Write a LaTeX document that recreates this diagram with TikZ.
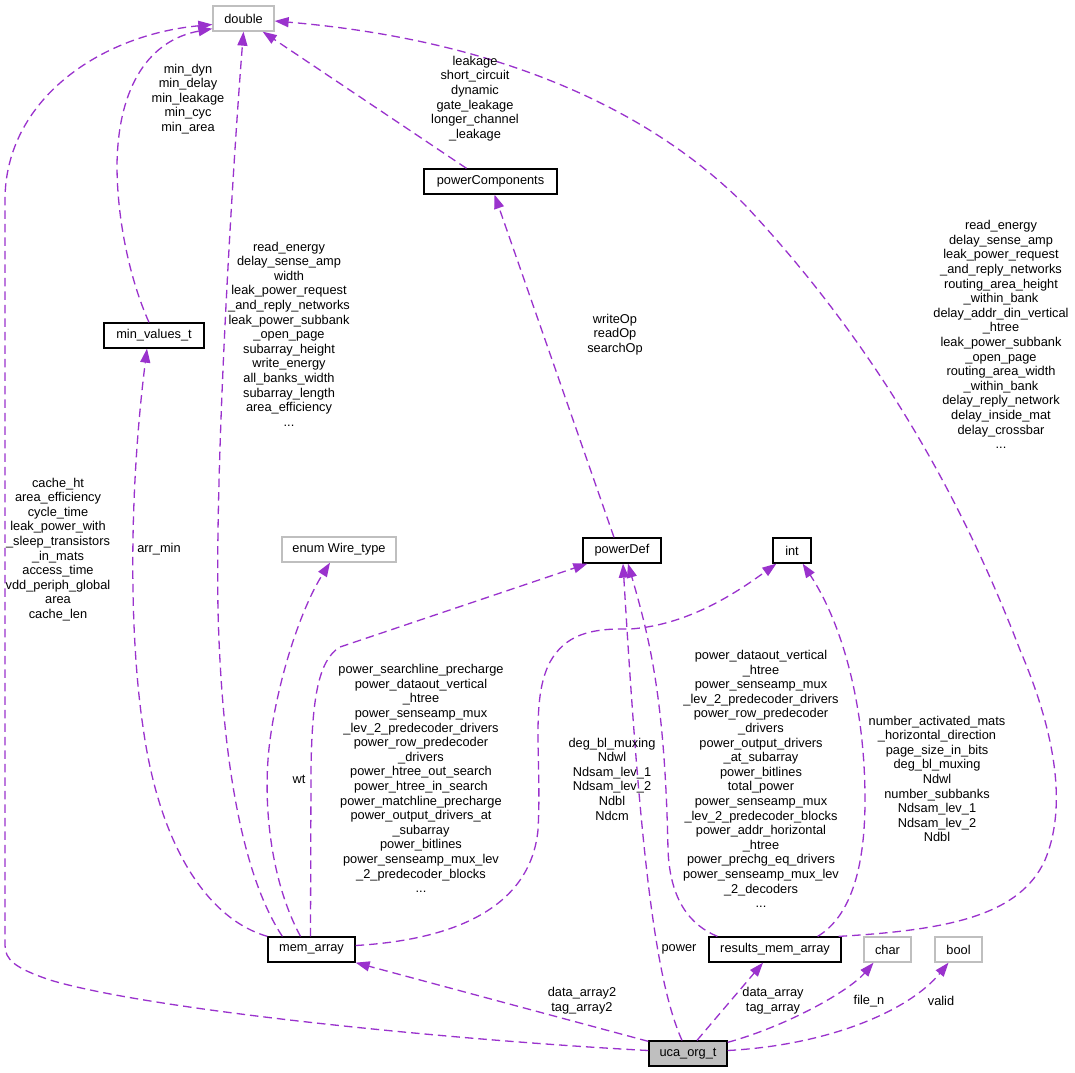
\documentclass[tikz,border=0pt]{standalone}
\usepackage{fontspec}
\setmainfont{Liberation Sans}
\usetikzlibrary{arrows.meta,calc}
\definecolor{edgecol}{HTML}{9A32CD}
\definecolor{greyline}{HTML}{BFBFBF}
\newcommand{\lblfont}{\fontsize{12.8}{14.6}\selectfont}
\begin{document}
\begin{tikzpicture}[x=1pt,y=-1pt,
  cls/.style={draw=black, line width=1.3pt, minimum height=25pt, inner sep=0pt, font=\lblfont},
  undoc/.style={cls, draw=greyline},
  lab/.style={align=center, font=\lblfont, inner sep=0pt},
  usage/.style={draw=edgecol, line width=1.3pt, dash pattern=on 8.5pt off 5pt,
    -{Triangle[length=14pt,width=10pt]}}]
\fill[white] (0,0) rectangle (1075,1072);
\useasboundingbox (0,0) rectangle (1075,1072);

% classes
\node[undoc, minimum width=61pt] (double) at (243.5,18.5) {double};
\node[cls, minimum width=133pt] (pc) at (490.5,181.5) {powerComponents};
\node[cls, minimum width=100pt] (minv) at (154,335.5) {min\_values\_t};
\node[undoc, minimum width=114pt] (wire) at (339,549.5) {enum Wire\_type};
\node[cls, minimum width=78pt] (pdef) at (622,550.5) {powerDef};
\node[cls, minimum width=38pt] (int) at (792,550.5) {int};
\node[cls, minimum width=87pt] (mem) at (311.5,949.5) {mem\_array};
\node[cls, minimum width=132pt] (res) at (775,949.5) {results\_mem\_array};
\node[undoc, minimum width=47pt] (char) at (887.5,949.5) {char};
\node[undoc, minimum width=47pt] (bool) at (958.5,949.5) {bool};
\node[cls, fill=greyline, minimum width=78pt] (uca) at (688,1053.5) {uca\_org\_t};

% connectors
\draw[usage] ($(uca.west)+(0,-3)$) .. controls (450,1040) and (150,1010) .. (50,980)
  .. controls (15,968) and (5,960) .. (5,945) -- (5,200)
  .. controls (5,100) and (100,35) .. ($(double.west)+(0,6)$);
\draw[usage] ($(minv.north)+(-5,0)$) .. controls (130,280) and (117,220) .. (117,165)
  .. controls (118,85) and (150,40) .. ($(double.south west)+(0,-3)$);
\draw[usage] ($(mem.north west)+(15,0)$) .. controls (245,880) and (222,770) .. (218,610)
  .. controls (215,450) and (234,150) .. (double.south);
\draw[usage] ($(pc.north)+(-24,0)$) -- ($(double.south east)+(-12,0)$);
\draw[usage] ($(pdef.north)+(-8,0)$) -- ($(pc.south)+(4,0)$);
\draw[usage] ($(res.north east)+(-3,0)$) .. controls (950,930) and (1020,915) .. (1045,860)
  .. controls (1070,800) and (1050,720) .. (1020,650)
  .. controls (970,520) and (890,360) .. (745,205)
  .. controls (650,110) and (500,40) .. ($(double.east)+(0,2.5)$);
\draw[usage] (mem.north west) .. controls (210,920) and (160,850) .. (143,727)
  .. controls (130,640) and (128,500) .. ($(minv.south)+(-7,0)$);
\draw[usage] ($(mem.north)+(-11,0)$) .. controls (270,880) and (262,800) .. (270,740)
  .. controls (278,680) and (300,610) .. ($(wire.south)+(-9,0)$);
\draw[usage] ($(mem.north)+(-1,0)$) -- (311,770) .. controls (312,700) and (318,660) .. (340,647)
  -- ($(pdef.south west)+(5,0)$);
\draw[usage] ($(mem.east)+(0,-4)$) .. controls (450,940) and (530,910) .. (538,830)
  .. controls (542,760) and (530,700) .. (550,662)
  .. controls (565,635) and (590,628) .. (630,629)
  .. controls (690,625) and (740,590) .. ($(int.south west)+(4,0)$);
\draw[usage] ($(uca.north)+(-6,0)$) .. controls (655,980) and (640,850) .. ($(pdef.south)+(1,0)$);
\draw[usage] ($(res.north west)+(9,0)$) .. controls (690,925) and (670,900) .. (668,850)
  .. controls (665,700) and (650,640) .. ($(pdef.south)+(6,0)$);
\draw[usage] ($(res.north east)+(-24,0)$) .. controls (845,920) and (865,880) .. (865,800)
  .. controls (865,700) and (840,620) .. ($(int.south east)+(-9,0)$);
\draw[usage] ($(uca.north west)+(0,1)$) -- (mem.south east);
\draw[usage] ($(uca.north)+(9,0)$) -- ($(res.south)+(-12,0)$);
\draw[usage] ($(uca.north east)+(0,2)$) .. controls (790,1025) and (850,990) .. ($(char.south)+(-14,0)$);
\draw[usage] ($(uca.east)+(0,-3)$) .. controls (830,1045) and (910,1010) .. ($(bool.south)+(-10,0)$);

% labels
\node[lab] (lcache) at (58,549.5) {cache\_ht\\area\_efficiency\\cycle\_time\\leak\_power\_with\\\_sleep\_transistors\\\_in\_mats\\access\_time\\vdd\_periph\_global\\area\\cache\_len};
\node[lab] (lmin) at (188,99) {min\_dyn\\min\_delay\\min\_leakage\\min\_cyc\\min\_area};
\node[lab] (lmemdbl) at (289,334) {read\_energy\\delay\_sense\_amp\\width\\leak\_power\_request\\\_and\_reply\_networks\\leak\_power\_subbank\\\_open\_page\\subarray\_height\\write\_energy\\all\_banks\_width\\subarray\_length\\area\_efficiency\\...};
\node[lab] (lpc) at (475,98.5) {leakage\\short\_circuit\\dynamic\\gate\_leakage\\longer\_channel\\\_leakage};
\node[lab] (lpdef) at (615,334.5) {writeOp\\readOp\\searchOp};
\node[lab] (lresdbl) at (1001,334.5) {read\_energy\\delay\_sense\_amp\\leak\_power\_request\\\_and\_reply\_networks\\routing\_area\_height\\\_within\_bank\\delay\_addr\_din\_vertical\\\_htree\\leak\_power\_subbank\\\_open\_page\\routing\_area\_width\\\_within\_bank\\delay\_reply\_network\\delay\_inside\_mat\\delay\_crossbar\\...};
\node[lab] (larr) at (159,549) {arr\_min};
\node[lab] (lwt) at (299,779) {wt};
\node[lab] (lmempdef) at (421,778.5) {power\_searchline\_precharge\\power\_dataout\_vertical\\\_htree\\power\_senseamp\_mux\\\_lev\_2\_predecoder\_drivers\\power\_row\_predecoder\\\_drivers\\power\_htree\_out\_search\\power\_htree\_in\_search\\power\_matchline\_precharge\\power\_output\_drivers\_at\\\_subarray\\power\_bitlines\\power\_senseamp\_mux\_lev\\\_2\_predecoder\_blocks\\...};
\node[lab] (lmemint) at (612,779) {deg\_bl\_muxing\\Ndwl\\Ndsam\_lev\_1\\Ndsam\_lev\_2\\Ndbl\\Ndcm};
\node[lab] (lrespdef) at (761,779) {power\_dataout\_vertical\\\_htree\\power\_senseamp\_mux\\\_lev\_2\_predecoder\_drivers\\power\_row\_predecoder\\\_drivers\\power\_output\_drivers\\\_at\_subarray\\power\_bitlines\\total\_power\\power\_senseamp\_mux\\\_lev\_2\_predecoder\_blocks\\power\_addr\_horizontal\\\_htree\\power\_prechg\_eq\_drivers\\power\_senseamp\_mux\_lev\\\_2\_decoders\\...};
\node[lab] (lresint) at (937,779) {number\_activated\_mats\\\_horizontal\_direction\\page\_size\_in\_bits\\deg\_bl\_muxing\\Ndwl\\number\_subbanks\\Ndsam\_lev\_1\\Ndsam\_lev\_2\\Ndbl};
\node[lab] (lpower) at (679,949) {power};
\node[lab] (lda2) at (582,1000.5) {data\_array2\\tag\_array2};
\node[lab] (lda) at (773,1000.5) {data\_array\\tag\_array};
\node[lab] (lfile) at (869,1001) {file\_n};
\node[lab] (lvalid) at (941,1001) {valid};
\end{tikzpicture}
\end{document}
